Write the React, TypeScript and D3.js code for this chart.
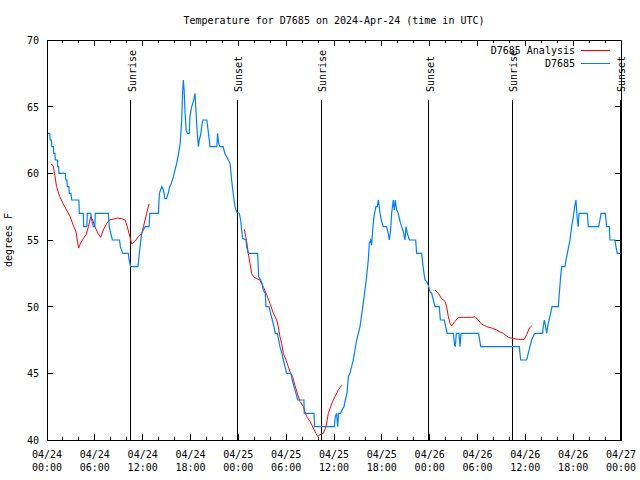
import React from "react";
import * as d3 from "d3";

const TITLE = "Temperature for D7685 on 2024-Apr-24 (time in UTC)";
const Y_LABEL = "degrees F";
const BASE_UTC = Date.UTC(2024, 3, 24, 0, 0, 0);

// hours since 2024-04-24 00:00 UTC
const obsHours = [
  0, 0.35, 0.4, 0.55, 0.6, 0.8, 0.85, 1.0, 1.05, 1.3, 1.35, 1.45, 1.5, 2.3, 2.35, 2.5, 2.55, 2.75, 2.8, 3.0, 3.1, 4.0,
  4.05, 4.55, 4.6, 5.0, 5.05, 5.5, 5.6, 5.8, 6.0, 6.05, 7.7, 7.8, 8.0, 8.2, 9.1, 9.2, 9.5, 10.2, 10.3, 10.5, 11.4,
  11.5, 11.67, 11.87, 12.3, 12.8, 12.9, 13.97, 14.1, 14.4, 14.6, 14.8, 15.0, 15.2, 15.4, 15.6, 15.85, 16.05, 16.27,
  16.5, 16.7, 16.9, 17.0, 17.1, 17.2, 17.3, 17.45, 17.6, 17.85, 17.93, 18.15, 18.36, 18.57, 18.7, 18.85, 19.0, 19.1,
  19.3, 19.4, 19.55, 20.05, 20.25, 20.45, 21.3, 21.4, 21.53, 21.7, 22.1, 22.3, 22.75, 22.96, 23.16, 23.37, 23.58,
  23.79, 24.12, 24.29, 24.42, 24.54, 24.96, 25.04, 25.25, 26.42, 26.55, 26.8, 26.97, 27.13, 27.38, 27.47, 27.84,
  28.05, 28.26, 28.47, 28.64, 28.89, 29.06, 29.22, 29.47, 29.64, 29.85, 30.06, 30.6, 30.77, 30.98, 31.23, 31.44,
  32.23, 32.27, 33.49, 33.57, 36.04, 36.16, 36.33, 36.46, 36.58, 36.83, 37.0, 37.25, 37.42, 37.63, 37.8, 38.0,
  38.21, 38.42, 38.63, 38.84, 39.05, 39.26, 39.47, 39.67, 39.88, 40.09, 40.3, 40.43, 40.6, 40.72, 40.85, 41.01,
  41.26, 41.43, 41.56, 41.68, 41.77, 41.97, 42.18, 42.6, 42.8, 42.94, 43.1, 43.23, 43.44, 43.56, 43.69, 43.86,
  44.07, 44.28, 44.49, 44.7, 44.9, 45.03, 45.2, 45.45, 46.24, 46.37, 47.0, 47.12, 47.29, 47.41, 47.62, 47.83,
  48.04, 48.25, 48.46, 48.67, 49.21, 49.34, 49.84, 50.0, 50.21, 50.97, 51.1, 51.22, 51.34, 51.68, 51.8, 51.93,
  54.14, 54.4, 59.24, 59.41, 60.16, 60.37, 60.58, 60.79, 61.08, 61.21, 62.17, 62.25, 62.38, 62.55, 62.67, 62.8,
  62.97, 63.18, 63.34, 64.14, 64.26, 64.43, 64.55, 64.97, 65.1, 65.27, 65.43, 65.6, 65.81, 66.02, 66.19, 66.35,
  66.52, 66.64, 66.73, 67.77, 67.9, 69.19, 69.36, 69.49, 70.03, 70.2, 70.53, 70.62, 71.24, 71.37, 71.53, 71.95,
];
const obsTemps = [
  63, 63, 62.5, 62.5, 62, 62, 61.5, 61.5, 61, 61, 60.5, 60.5, 60, 60, 59.5, 59.5, 59, 59, 58.5, 58.5, 58, 58,
  57, 57, 56, 56, 57, 57, 56.5, 56, 56, 57, 57, 56, 55.5, 55, 55, 54.5, 54, 54, 53.5, 53, 53,
  53.5, 54.5, 55.5, 56, 56, 57, 57, 58.5, 59, 58.75, 58.1, 58.1, 58.5, 59, 59.25, 59.75, 60.25, 60.75,
  61.5, 62.25, 64, 66, 67, 66.25, 64.75, 63.25, 63, 63, 64.25, 65, 65.4, 66, 64.5, 63, 62, 62.5,
  63, 63.5, 64, 64, 63, 62, 62, 63, 62.25, 62, 62, 61.5, 61, 60.75, 59.5, 58.4, 57.5,
  57.1, 57, 56.5, 55.75, 55.1, 55, 54.5, 54, 54, 52.25, 52, 51.75, 51.25, 51, 50, 50,
  49.5, 49, 48.5, 48, 48, 47.5, 47, 46.5, 46, 45.5, 45, 45, 44.5, 44, 43.5, 43,
  43, 42, 42, 41, 41, 41.75, 42, 41, 42, 42, 42.25, 42.5, 43, 43.5, 44.75, 45,
  45.5, 46, 46.75, 47.5, 48, 48.5, 49.4, 50.25, 51.25, 52.25, 53.5, 54.75, 55, 54.6, 55.75, 56.75,
  57.5, 57.5, 58, 57.5, 57, 56.4, 56, 56, 55.5, 55, 55.75, 57, 58, 57.25, 58, 57.25,
  57, 56.4, 56, 55.6, 55, 56, 55.5, 55, 55, 54, 54, 53.25, 52.5, 52, 51.9, 51.6,
  51.1, 51, 50.5, 50, 50, 49, 49, 48.5, 48, 48, 47.25, 47, 48, 48, 47, 48,
  48, 47, 47, 46, 46, 46.5, 47, 47.5, 47.9, 48, 48, 48.5, 49, 48.5, 48, 48.5,
  49, 49.5, 50, 50, 51, 52.25, 53, 53, 53.5, 54, 54.5, 55, 56, 56.75, 57.5, 58,
  56.5, 56, 57, 57, 56, 56, 56.5, 57, 57, 56, 56, 55, 55, 54.5, 54, 54,
];

// analysis series; null marks a gap
const analysisHours = [
  0.5, 0.75, 0.95, 1.2, 1.6, 2.0, 2.45, 2.9, 3.3, 3.65, 3.8, 3.97, 4.2, 4.55, 4.9, 5.2, 5.48, 5.73, 6.0, 6.4, 6.73,
  7.06, 7.5, 7.8, 8.15, 8.55, 8.82, 9.35, 9.8, 10.07, 10.4, 10.62, 11.04, 11.45, 11.9, 12.1, 12.3, 12.5, 12.8,
  18,
  24.75, 25.04, 25.25, 25.46, 25.67, 25.88, 26.3, 26.72, 27.13, 27.55, 27.97, 28.39, 28.81, 29.01, 29.22, 29.43,
  29.64, 29.98, 30.27, 30.48, 30.81, 31.1, 31.4, 31.73, 32.15, 32.57, 32.99, 33.4, 33.74, 33.95, 34.24, 34.66, 35.0,
  35.29, 35.58, 35.83, 36.12, 36.54, 36.96,
  42,
  48.67, 49.09, 49.5, 49.92, 50.13, 50.34, 50.55, 50.76, 51.18, 51.6, 52.22, 53.27, 53.7, 54.1, 54.5, 55.15, 55.78,
  56.4, 56.82, 57.24, 57.86, 58.5, 59.1, 59.87, 60.17, 60.5, 60.8,
];
const analysisTemps = [
  60.7, 60.6, 60, 59, 58.25, 57.75, 57.25, 56.75, 56.1, 55.6, 55, 54.4, 54.75, 55.1, 55.4, 56, 56.75, 56.5, 56, 55.5, 55.2,
  55.75, 56.25, 56.5, 56.55, 56.6, 56.65, 56.6, 56.5, 56, 55.25, 54.7, 54.9, 55.25, 55.5, 56, 56.5, 57, 57.7,
  null,
  55.8, 54.9, 54, 53.25, 52.5, 52.25, 52.1, 52, 51.5, 50.9, 50.25, 49.5, 49, 48.5, 47.75, 47.25,
  46.5, 46, 45.5, 45.1, 44.75, 44.1, 43.5, 42.9, 42.5, 41.75, 41.4, 40.9, 40.5, 40.25, 40.4, 40.5, 41,
  42, 42.5, 42.9, 43.25, 43.75, 44.1,
  null,
  51.25, 51, 50.6, 50.4, 50, 49.25, 48.75, 48.55, 48.9, 49.2, 49.2, 49.2, 49.25, 49, 48.7, 48.5, 48.4,
  48.25, 48.1, 48, 47.7, 47.6, 47.55, 47.55, 47.9, 48.4, 48.55,
];

const sunEventHours = [10.48, 23.88, 34.37, 47.9, 58.35, 71.92];
const sunEventLabels = ["Sunrise", "Sunset", "Sunrise", "Sunset", "Sunrise", "Sunset"];

const yTicks = [40, 45, 50, 55, 60, 65, 70];
const seriesNames = ["D7685 Analysis", "D7685"];
const seriesColors = ["#ff0000", "#0080ff"];

const W = 640, H = 480;
const M = { left: 47, right: 621, top: 40, bottom: 440 };
const FONT = "'DejaVu Sans Mono', 'Liberation Mono', monospace";

const toDate = (h: number) => new Date(BASE_UTC + h * 3600e3);

export default function App() {
  const x = d3.scaleUtc().domain([toDate(0), toDate(72)]).range([M.left, M.right]);
  const y = d3.scaleLinear().domain([40, 70]).range([M.bottom, M.top]);

  const obs = obsHours.map((h, i) => ({ t: toDate(h), v: obsTemps[i] }));
  const ana = analysisHours.map((h, i) => ({ t: toDate(h), v: analysisTemps[i] }));

  const line = d3
    .line<{ t: Date; v: number | null }>()
    .defined((d) => d.v !== null)
    .x((d) => x(d.t))
    .y((d) => y(d.v as number));

  const majorTicks = x.ticks(d3.utcHour.every(6)!);
  const minorTicks = x.ticks(d3.utcHour.every(2)!).filter((d) => d.getUTCHours() % 6 !== 0);
  const fmtDate = d3.utcFormat("%m/%d");
  const fmtTime = d3.utcFormat("%H:%M");

  return (
    <svg
      width={W}
      height={H}
      style={{ position: "absolute", left: 0, top: 0, background: "#fff" }}
      fontFamily={FONT}
      fontSize={10}
    >
      <rect x={0} y={0} width={W} height={H} fill="#fff" />
      <text x={(M.left + M.right) / 2} y={24} textAnchor="middle" fill="#000">
        {TITLE}
      </text>
      <text transform={`translate(12,240) rotate(-90)`} textAnchor="middle" fill="#000">
        {Y_LABEL}
      </text>

      <g shapeRendering="crispEdges" stroke="#000">
        {yTicks.map((t) => (
          <g key={t}>
            <line x1={M.left} x2={M.left + 6} y1={y(t)} y2={y(t)} />
            <line x1={M.right} x2={M.right - 6} y1={y(t)} y2={y(t)} />
          </g>
        ))}
        {majorTicks.map((d, i) => (
          <g key={"M" + i}>
            <line x1={x(d)} x2={x(d)} y1={M.bottom} y2={M.bottom - 6} />
            <line x1={x(d)} x2={x(d)} y1={M.top} y2={M.top + 6} />
          </g>
        ))}
        {minorTicks.map((d, i) => (
          <g key={"m" + i}>
            <line x1={x(d)} x2={x(d)} y1={M.bottom} y2={M.bottom - 3} />
            <line x1={x(d)} x2={x(d)} y1={M.top} y2={M.top + 3} />
          </g>
        ))}
      </g>
      {yTicks.map((t) => (
        <text key={t} x={39} y={y(t) + 4} textAnchor="end" fill="#000">
          {t}
        </text>
      ))}
      {majorTicks.map((d, i) => (
        <g key={"l" + i}>
          <text x={x(d)} y={458} textAnchor="middle" fill="#000">
            {fmtDate(d)}
          </text>
          <text x={x(d)} y={471} textAnchor="middle" fill="#000">
            {fmtTime(d)}
          </text>
        </g>
      ))}

      {sunEventHours.map((h, i) => {
        const px = x(toDate(h));
        return (
          <g key={"s" + i}>
            <line x1={px} x2={px} y1={100} y2={M.bottom} stroke="#000" strokeWidth={1} shapeRendering="crispEdges" />
            <text transform={`translate(${px + 5},92) rotate(-90)`} textAnchor="start" fill="#000">
              {sunEventLabels[i]}
            </text>
          </g>
        );
      })}

      <path d={line(ana) || ""} fill="none" stroke={seriesColors[0]} strokeWidth={1} />
      <path d={line(obs) || ""} fill="none" stroke={seriesColors[1]} strokeWidth={1.2} />

      {seriesNames.map((n, i) => (
        <g key={n}>
          <text x={575} y={54 + i * 13} textAnchor="end" fill="#000">
            {n}
          </text>
          <line
            x1={581}
            x2={610}
            y1={50 + i * 13}
            y2={50 + i * 13}
            stroke={seriesColors[i]}
            strokeWidth={1}
            shapeRendering="crispEdges"
          />
        </g>
      ))}

      <rect
        x={M.left}
        y={M.top}
        width={M.right - M.left}
        height={M.bottom - M.top}
        fill="none"
        stroke="#000"
        shapeRendering="crispEdges"
      />
    </svg>
  );
}
